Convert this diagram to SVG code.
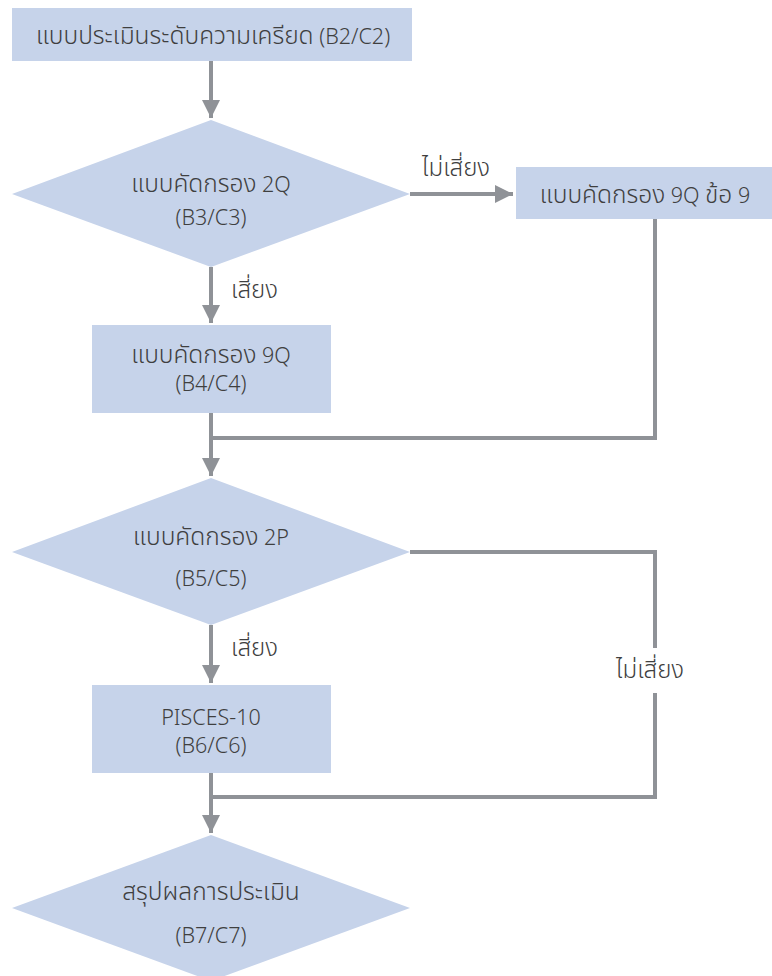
<svg xmlns="http://www.w3.org/2000/svg" width="772" height="976" viewBox="0 0 772 976">
<style>
.n{fill:#c6d3ea;}
.t{font-family:"Noto Sans","Noto Sans Thai","DejaVu Sans",sans-serif;font-size:21.5px;font-weight:300;fill:#3f3f3f;text-anchor:middle;}
.th{font-size:24.5px;}
.l{font-family:"Noto Sans","Noto Sans Thai","DejaVu Sans",sans-serif;font-size:24px;font-weight:300;fill:#3f3f3f;}
.c{fill:none;stroke:#8f9297;stroke-width:4;}
</style>
<defs>
<marker id="ah" markerUnits="userSpaceOnUse" markerWidth="18" markerHeight="18" refX="18" refY="9" orient="auto">
<polygon points="0,0 18,9 0,18" fill="#8f9297"/>
</marker>
</defs>
<rect width="772" height="976" fill="#ffffff"/>
<g id="connectors">
<line class="c" x1="211" y1="61" x2="211" y2="118" marker-end="url(#ah)"/>
<line class="c" x1="410" y1="194" x2="513" y2="194" marker-end="url(#ah)"/>
<line class="c" x1="211" y1="267" x2="211" y2="323" marker-end="url(#ah)"/>
<polyline class="c" points="655,219 655,438 211,438"/>
<line class="c" x1="211" y1="413" x2="211" y2="476" marker-end="url(#ah)"/>
<line class="c" x1="211" y1="625" x2="211" y2="683" marker-end="url(#ah)"/>
<polyline class="c" points="410,552 655,552 655,648"/>
<polyline class="c" points="655,693 655,797 211,797"/>
<line class="c" x1="211" y1="773" x2="211" y2="833" marker-end="url(#ah)"/>
<text class="l" x="456" y="176" text-anchor="middle">ไม่เสี่ยง</text>
<text class="l" x="231" y="298">เสี่ยง</text>
<text class="l" x="231" y="656">เสี่ยง</text>
<text class="l" x="650" y="678" text-anchor="middle">ไม่เสี่ยง</text>
</g>
<g id="n1">
<rect class="n" x="12" y="8" width="400" height="53"/>
<text class="t" x="213" y="44"><tspan class="th">แบบประเมินระดับความเครียด</tspan> (B2/C2)</text>
</g>
<g id="n2">
<polygon class="n" points="211,120 410,194 211,267 12,194"/>
<text class="t" x="211" y="192"><tspan class="th">แบบคัดกรอง</tspan> 2Q</text>
<text class="t" x="211" y="225">(B3/C3)</text>
</g>
<g id="n3">
<rect class="n" x="516" y="167" width="256" height="52"/>
<text class="t" x="645" y="203"><tspan class="th">แบบคัดกรอง</tspan> 9Q <tspan class="th">ข้อ</tspan> 9</text>
</g>
<g id="n4">
<rect class="n" x="92" y="325" width="239" height="88"/>
<text class="t" x="211" y="363"><tspan class="th">แบบคัดกรอง</tspan> 9Q</text>
<text class="t" x="211" y="391">(B4/C4)</text>
</g>
<g id="n5">
<polygon class="n" points="211,478 410,552 211,625 12,552"/>
<text class="t" x="211" y="545"><tspan class="th">แบบคัดกรอง</tspan> 2P</text>
<text class="t" x="211" y="586">(B5/C5)</text>
</g>
<g id="n6">
<rect class="n" x="92" y="685" width="239" height="88"/>
<text class="t" x="211" y="725">PISCES-10</text>
<text class="t" x="211" y="753">(B6/C6)</text>
</g>
<g id="n7">
<polygon class="n" points="211,835 410,908 211,981 12,908"/>
<text class="t th" x="211" y="900">สรุปผลการประเมิน</text>
<text class="t" x="211" y="943">(B7/C7)</text>
</g>
</svg>
